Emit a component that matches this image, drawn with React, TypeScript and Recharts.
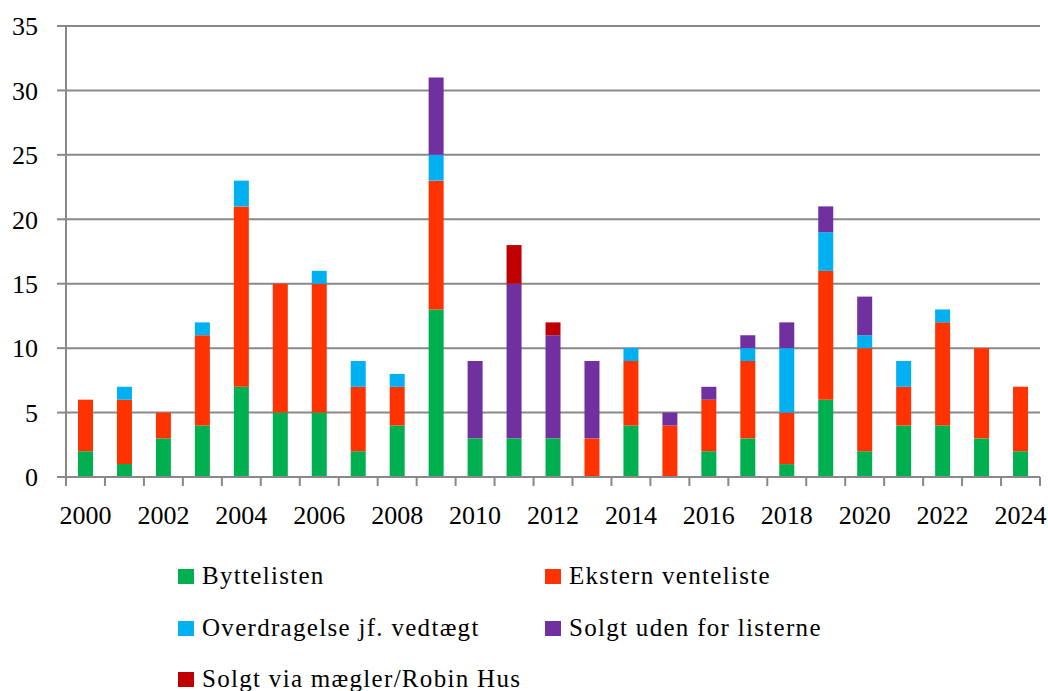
import { BarChart, Bar, XAxis, YAxis, CartesianGrid } from "recharts";

const years = [
  "2000", "2001", "2002", "2003", "2004", "2005", "2006", "2007", "2008", "2009",
  "2010", "2011", "2012", "2013", "2014", "2015", "2016", "2017", "2018", "2019",
  "2020", "2021", "2022", "2023", "2024",
];

const byttelisten = [2, 1, 3, 4, 7, 5, 5, 2, 4, 13, 3, 3, 3, 0, 4, 0, 2, 3, 1, 6, 2, 4, 4, 3, 2];
const eksternVenteliste = [4, 5, 2, 7, 14, 10, 10, 5, 3, 10, 0, 0, 0, 3, 5, 4, 4, 6, 4, 10, 8, 3, 8, 7, 5];
const overdragelse = [0, 1, 0, 1, 2, 0, 1, 2, 1, 2, 0, 0, 0, 0, 1, 0, 0, 1, 5, 3, 1, 2, 1, 0, 0];
const solgtUden = [0, 0, 0, 0, 0, 0, 0, 0, 0, 6, 6, 12, 8, 6, 0, 1, 1, 1, 2, 2, 3, 0, 0, 0, 0];
const solgtMaegler = [0, 0, 0, 0, 0, 0, 0, 0, 0, 0, 0, 3, 1, 0, 0, 0, 0, 0, 0, 0, 0, 0, 0, 0, 0];

const yTicks = [0, 5, 10, 15, 20, 25, 30, 35];

const series = [
  { key: "byttelisten", name: "Byttelisten", color: "#00B050", values: byttelisten },
  { key: "ekstern", name: "Ekstern venteliste", color: "#FF3300", values: eksternVenteliste },
  { key: "overdragelse", name: "Overdragelse jf. vedtægt", color: "#00B0F0", values: overdragelse },
  { key: "uden", name: "Solgt uden for listerne", color: "#7030A0", values: solgtUden },
  { key: "maegler", name: "Solgt via mægler/Robin Hus", color: "#C00000", values: solgtMaegler },
];

const data = years.map((year, i) => {
  const row: Record<string, string | number> = { year };
  series.forEach((s) => { row[s.key] = s.values[i]; });
  return row;
});

const FONT = "'Liberation Serif', 'Times New Roman', serif";
const GRID = "#898989";

// tick mark on each category boundary, label under every other bar
function YearTick(props: any) {
  const { x, y, index, payload } = props;
  const half = payload?.offset ?? 19.5;
  return (
    <g>
      <line x1={x - half} x2={x - half} y1={y} y2={y + 9} stroke={GRID} strokeWidth={2} />
      {index === years.length - 1 && (
        <line x1={x + half} x2={x + half} y1={y} y2={y + 9} stroke={GRID} strokeWidth={2} />
      )}
      {index % 2 === 0 && (
        <text x={x} y={y + 47} textAnchor="middle" fontSize={26} fontFamily={FONT} fill="#000">
          {payload.value}
        </text>
      )}
    </g>
  );
}

const legendPos = [
  { left: 178, top: 568 },
  { left: 545, top: 568 },
  { left: 178, top: 620 },
  { left: 545, top: 620 },
  { left: 178, top: 671 },
];

export default function App() {
  return (
    <div style={{ position: "absolute", left: 0, top: 0, width: 1048, height: 691, background: "#fff", fontFamily: FONT }}>
      <BarChart
        width={1048}
        height={691}
        data={data}
        margin={{ top: 26, right: 8, bottom: 154, left: 0 }}
        barSize={15}
      >
        <CartesianGrid horizontal vertical={false} stroke={GRID} strokeWidth={2} />
        <XAxis
          dataKey="year"
          interval={0}
          height={60}
          tickSize={0}
          tickMargin={0}
          tickLine={false}
          axisLine={{ stroke: GRID, strokeWidth: 2 }}
          tick={<YearTick />}
        />
        <YAxis
          domain={[0, 35]}
          ticks={yTicks}
          width={66}
          tickSize={9}
          tickMargin={19}
          axisLine={{ stroke: GRID, strokeWidth: 2 }}
          tickLine={{ stroke: GRID, strokeWidth: 2 }}
          tick={{ fontSize: 26, fontFamily: FONT, fill: "#000" }}
        />
        {series.map((s) => (
          <Bar key={s.key} dataKey={s.key} name={s.name} stackId="a" fill={s.color} isAnimationActive={false} />
        ))}
      </BarChart>
      {series.map((s, i) => (
        <div
          key={s.key}
          style={{
            position: "absolute",
            left: legendPos[i].left,
            top: legendPos[i].top,
            display: "flex",
            alignItems: "center",
            height: 16,
            whiteSpace: "nowrap",
          }}
        >
          <span style={{ width: 16, height: 15, background: s.color, display: "inline-block", marginRight: 8 }} />
          <span style={{ fontSize: 25, letterSpacing: 1.3, color: "#000", lineHeight: "16px" }}>{s.name}</span>
        </div>
      ))}
    </div>
  );
}
